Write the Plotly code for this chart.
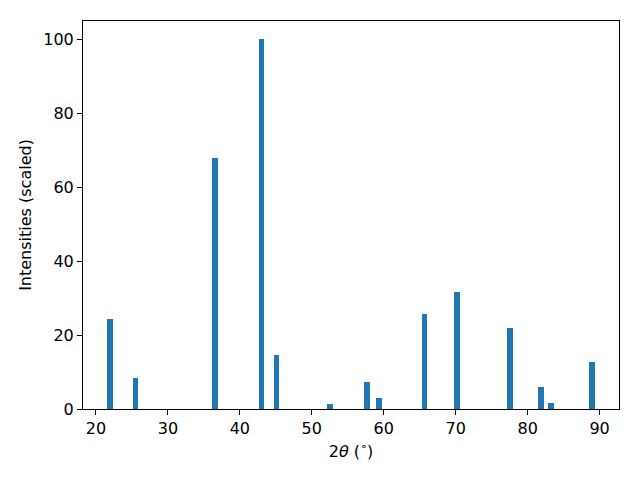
import plotly.graph_objects as go

two_theta = [22.0, 25.5, 36.5, 43.0, 45.1, 52.5, 57.7, 59.3, 65.65, 70.2, 77.6, 81.9, 83.3, 88.9]
intensity = [24.4, 8.4, 68.0, 100.0, 14.6, 1.4, 7.3, 3.0, 25.7, 31.7, 22.0, 6.0, 1.6, 12.7]
x_ticks = [20, 30, 40, 50, 60, 70, 80, 90]
y_ticks = [0, 20, 40, 60, 80, 100]

fig = go.Figure(go.Bar(x=two_theta, y=intensity, width=0.8, marker_color="#1f77b4",
                       marker_line_width=0))

axis_common = dict(showline=True, linecolor="black", linewidth=1, mirror=True,
                   ticks="outside", ticklen=5, tickwidth=1, tickcolor="black",
                   showgrid=False, zeroline=False,
                   tickfont=dict(family="DejaVu Sans", size=16, color="black"))

fig.update_layout(
    width=624, height=464,
    margin=dict(l=75, r=13, t=13, b=63),
    plot_bgcolor="white", paper_bgcolor="white",
    showlegend=False,
    font=dict(family="DejaVu Sans", size=16, color="black"),
    bargap=0,
)
fig.update_xaxes(range=[18.2, 92.7], tickvals=x_ticks,
                 title=dict(text="2<i>θ</i> (<sup>∘</sup>)", standoff=8,
                            font=dict(family="DejaVu Sans", size=16)),
                 **axis_common)
fig.update_yaxes(range=[0, 105], tickvals=y_ticks,
                 title=dict(text="Intensities (scaled)", standoff=7,
                            font=dict(family="DejaVu Sans", size=16)),
                 **axis_common)

fig.write_html("out.html")
